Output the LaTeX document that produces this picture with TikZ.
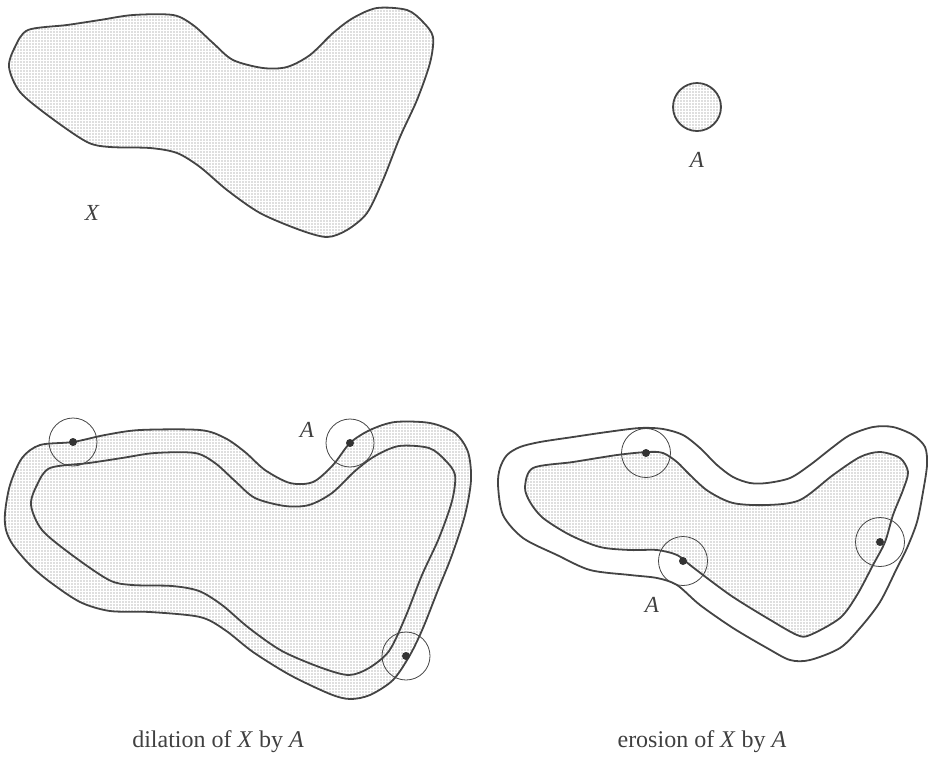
\documentclass[tikz,border=0pt]{standalone}
\usepackage{fontspec}
\setmainfont{Liberation Serif}
\usetikzlibrary{patterns.meta}
\definecolor{ink}{HTML}{444444}
\tikzset{
  stipple/.style={pattern={Dots[distance=3pt,radius=0.7pt]},pattern color=black!55},
  outline/.style={draw=ink,line width=1.8pt,line join=round},
  probe/.style={draw=ink,line width=0.8pt},
  centre/.style={fill=black!80},
  lbl/.style={font=\fontsize{23}{26}\selectfont\itshape,text=black!75,inner sep=0pt},
  caption/.style={font=\fontsize{24}{28}\selectfont,text=black!75,inner sep=0pt}
}
\def\Xshape{plot[smooth cycle,tension=0.5] coordinates {
 (9,67) (15,47) (28,30) (67,25) (100,20) (133,15) (173,15) (193,25) (213,43)
 (233,60) (263,68) (287,67) (310,55) (333,33) (353,18) (377,8) (407,10) (423,22)
 (433,37) (430,63) (417,100) (400,137) (383,180) (367,213) (347,230) (327,237)
 (300,230) (260,213) (227,190) (200,167) (177,153) (150,148) (110,147) (87,142)
 (50,117) (20,92)}}
\begin{document}
\begin{tikzpicture}[x=1pt,y=-1pt]
\useasboundingbox (0,0) rectangle (928,764);
% ---- top: X and A
\path[stipple] \Xshape;
\draw[outline] \Xshape;
\node[lbl] (lx) at (92,213) {X};
\path[stipple] (697,107) circle (24);
\draw[outline] (697,107) circle (24);
\node[lbl] (la) at (697,160) {A};
% ---- dilation
\def\Dout{plot[smooth cycle,tension=0.5] coordinates {
 (5,513) (10,485) (22,458) (40,445) (73,442) (105,435) (140,430) (200,430)
 (225,438) (245,452) (265,470) (290,483) (313,482) (333,465) (350,443) (370,430)
 (395,422) (430,423) (455,433) (468,452) (471,480) (465,515) (452,555) (438,590)
 (423,628) (410,655) (393,680) (370,695) (350,699) (330,694) (290,675) (253,652)
 (225,630) (200,617) (150,612) (110,611) (80,602) (50,582) (30,565) (13,545) (6,530)}}
\path[stipple] \Dout;
\draw[outline] \Dout;
\begin{scope}[shift={(22,438)}]
\draw[outline] \Xshape;
\end{scope}
\foreach \n/\p in {d1/{(73,442)},d2/{(350,443)},d3/{(406,656)}}{
  \draw[probe] \p circle (24);
  \fill[centre] \p circle (4);
}
\node[lbl] (lda) at (307,430) {A};
\node[caption] (cd) at (218,742) {dilation of \textit{X} by \textit{A}};
% ---- erosion
\def\Eout{plot[smooth cycle,tension=0.5] coordinates {
 (498,485) (500,468) (507,455) (520,447) (540,442) (573,437) (607,432) (640,428)
 (663,429) (683,435) (700,448) (717,465) (733,477) (750,483) (767,483) (790,478)
 (810,465) (833,447) (850,435) (873,427) (893,427) (913,435) (925,447) (927,465)
 (923,492) (917,522) (907,548) (897,568) (880,602) (860,628) (840,648) (810,660)
 (790,660) (767,648) (733,628) (700,605) (677,585) (657,578) (630,575) (590,570)
 (557,555) (523,538) (503,515)}}
\draw[outline] \Eout;
\def\Ein{plot[smooth cycle,tension=0.5] coordinates {
 (525,487) (533,468) (573,462) (617,455) (647,452) (663,453) (677,462) (690,475)
 (708,491) (733,503) (767,505) (800,500) (833,475) (860,457) (880,452) (900,458)
 (908,472) (903,490) (893,515) (885,542) (873,565) (857,595) (840,618) (810,635)
 (797,635) (767,618) (733,597) (707,578) (690,565) (677,555) (657,550) (630,550)
 (600,547) (570,535) (543,518) (530,502)}}
\path[stipple] \Ein;
\draw[outline] \Ein;
\foreach \n/\p in {e1/{(646,453)},e2/{(683,561)},e3/{(880,542)}}{
  \draw[probe] \p circle (24.5);
  \fill[centre] \p circle (4);
}
\node[lbl] (lea) at (652,605) {A};
\node[caption] (ce) at (702,742) {erosion of \textit{X} by \textit{A}};
\end{tikzpicture}
\end{document}
